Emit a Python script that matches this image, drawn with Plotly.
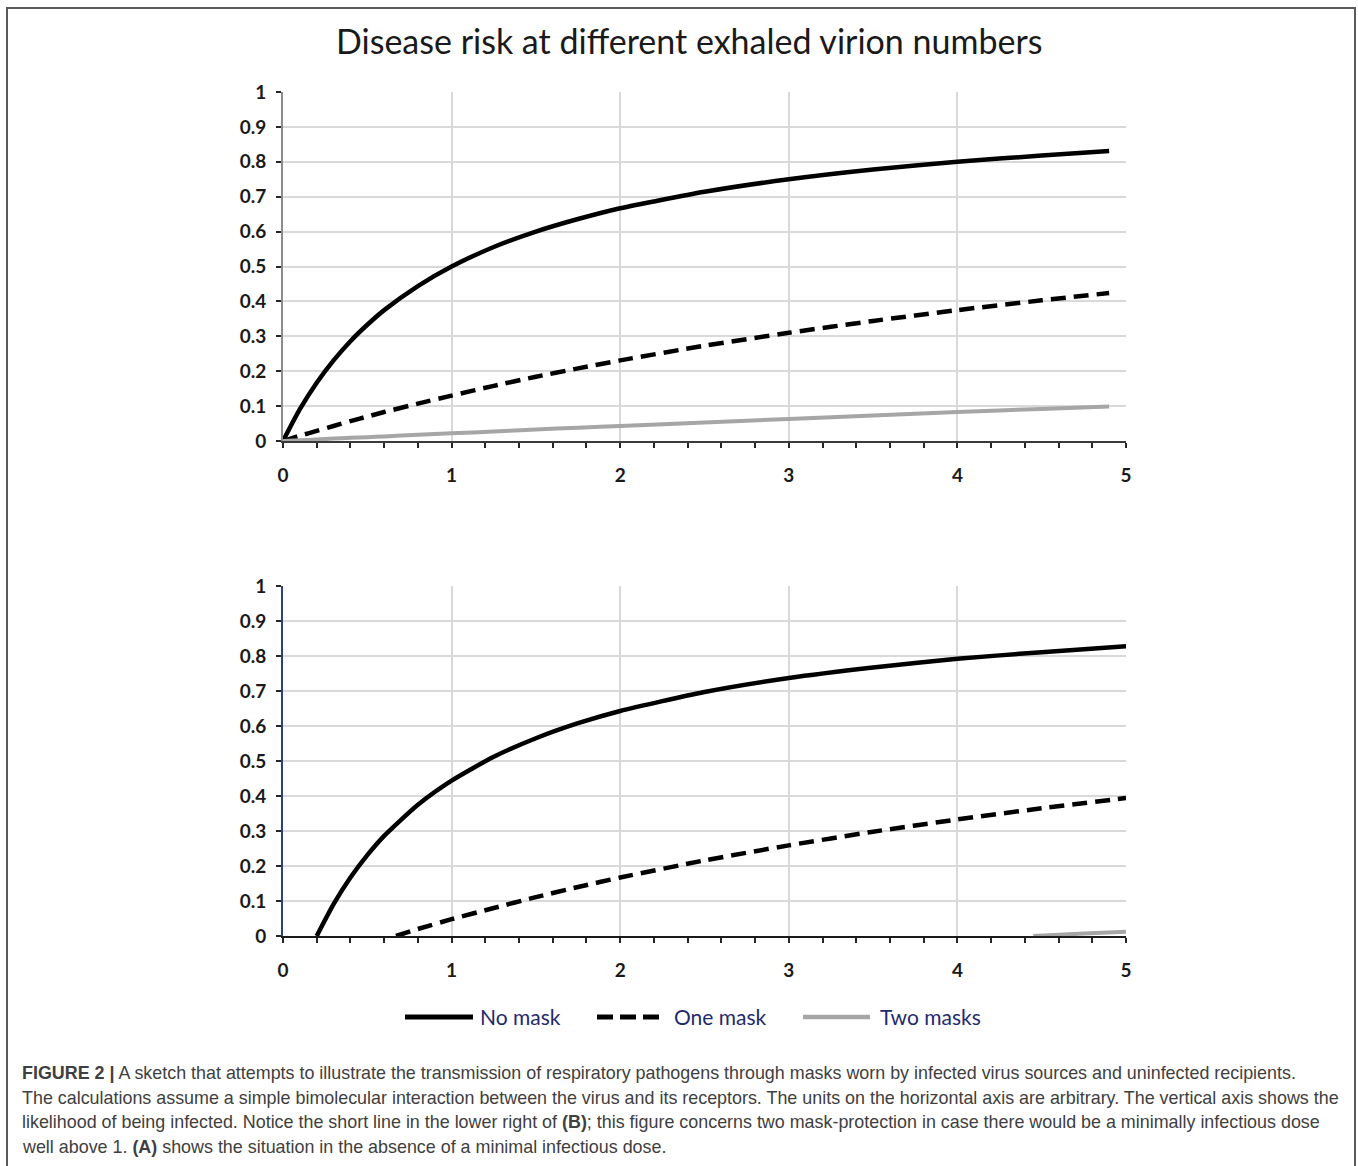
import plotly.graph_objects as go
from plotly.subplots import make_subplots

# ---- Panel A: no minimal infectious dose ----
a_x = [0, 0.1, 0.2, 0.3, 0.4, 0.5, 0.6, 0.8, 1.0, 1.25, 1.5, 1.75, 2.0, 2.5, 3.0, 3.5, 4.0, 4.5, 4.9]
a_no_mask = [0, 0.091, 0.167, 0.231, 0.286, 0.333, 0.375, 0.444, 0.5, 0.556, 0.6, 0.636, 0.667,
             0.714, 0.75, 0.778, 0.8, 0.818, 0.831]
a_one_mask = [0, 0.015, 0.029, 0.043, 0.057, 0.070, 0.083, 0.107, 0.130, 0.158, 0.184, 0.208, 0.231,
              0.273, 0.310, 0.344, 0.375, 0.403, 0.424]
a_two_masks = [0, 0.002, 0.004, 0.007, 0.009, 0.011, 0.013, 0.018, 0.022, 0.027, 0.033, 0.038, 0.043,
               0.053, 0.063, 0.073, 0.083, 0.092, 0.099]

# ---- Panel B: with a minimal infectious dose ----
b_no_mask_x = [0.2, 0.3, 0.4, 0.5, 0.6, 0.8, 1.0, 1.25, 1.5, 1.75, 2.0, 2.5, 3.0, 3.5, 4.0, 4.5, 5.0]
b_no_mask = [0, 0.091, 0.167, 0.231, 0.286, 0.375, 0.444, 0.512, 0.565, 0.608, 0.643, 0.697, 0.737,
             0.767, 0.792, 0.811, 0.828]
b_one_mask_x = [0.67, 0.8, 1.0, 1.25, 1.5, 1.75, 2.0, 2.5, 3.0, 3.5, 4.0, 4.5, 5.0]
b_one_mask = [0, 0.020, 0.048, 0.080, 0.111, 0.140, 0.167, 0.216, 0.259, 0.298, 0.333, 0.365, 0.394]
b_two_masks_x = [4.45, 4.75, 5.0]
b_two_masks = [0, 0.007, 0.012]

series_names = ["No mask", "One mask", "Two masks"]
x_ticks = [0, 1, 2, 3, 4, 5]
y_ticks = [0, 0.1, 0.2, 0.3, 0.4, 0.5, 0.6, 0.7, 0.8, 0.9, 1]
y_tick_text = ["0", "0.1", "0.2", "0.3", "0.4", "0.5", "0.6", "0.7", "0.8", "0.9", "1"]

W, H = 1358, 1166

styles = [
    dict(color="#000000", width=4.5),
    dict(color="#000000", width=4.5, dash="15px,8px"),
    dict(color="#a6a6a6", width=4),
]

fig = make_subplots(rows=2, cols=1)

panel_a = [(a_x, a_no_mask), (a_x, a_one_mask), (a_x, a_two_masks)]
panel_b = [(b_no_mask_x, b_no_mask), (b_one_mask_x, b_one_mask), (b_two_masks_x, b_two_masks)]

for row, panel in ((1, panel_a), (2, panel_b)):
    for i, (xs, ys) in enumerate(panel):
        fig.add_trace(go.Scatter(x=xs, y=ys, mode="lines", name=series_names[i],
                                 line=dict(shape="spline", smoothing=0.6, **styles[i]),
                                 showlegend=False), row=row, col=1)


def py(px):
    """Pixel row (from top) to paper fraction."""
    return (H - px) / H


def pxx(px):
    return px / W


label_font = dict(family="Lato, 'DejaVu Sans', sans-serif", size=19, color="#1a1a1a",
                  weight="bold")

x_common = dict(range=[0, 5], tickvals=x_ticks, ticks="outside", ticklen=5, tickwidth=1.5,
                tickcolor="#262626", showgrid=True, gridcolor="#d9d9d9", gridwidth=1.5,
                zeroline=False, showline=True, linewidth=2, tickfont=label_font,
                ticklabelstandoff=11, automargin=False,
                minor=dict(dtick=0.2, ticks="outside", ticklen=5, tickcolor="#262626",
                           tickwidth=1.5, showgrid=False),
                domain=[pxx(283), pxx(1126)])
y_common = dict(range=[0, 1], tickvals=y_ticks, ticktext=y_tick_text, ticks="outside",
                ticklen=5, tickwidth=1.5, tickcolor="#262626", showgrid=True,
                gridcolor="#d9d9d9", gridwidth=1.5, zeroline=False, showline=True,
                linewidth=2, tickfont=label_font, ticklabelstandoff=6, automargin=False)

fig.update_xaxes(**x_common, linecolor="#3a3a3a", row=1, col=1)
fig.update_xaxes(**x_common, linecolor="#1a1a1a", row=2, col=1)
fig.update_yaxes(**y_common, linecolor="#8c8c8c", domain=[py(441), py(92)], row=1, col=1)
fig.update_yaxes(**y_common, linecolor="#2a3f8f", domain=[py(936), py(586)], row=2, col=1)

caption_lines = [
    "<b>FIGURE 2 |</b> A sketch that attempts to illustrate the transmission of respiratory pathogens "
    "through masks worn by infected virus sources and uninfected recipients.",
    "The calculations assume a simple bimolecular interaction between the virus and its receptors. "
    "The units on the horizontal axis are arbitrary. The vertical axis shows the",
    "likelihood of being infected. Notice the short line in the lower right of <b>(B)</b>; this figure "
    "concerns two mask-protection in case there would be a minimally infectious dose",
    "well above 1. <b>(A)</b> shows the situation in the absence of a minimal infectious dose.",
]
caption_rows = [1073, 1098, 1122, 1147]

annotations = [
    dict(text="Disease risk at different exhaled virion numbers", x=pxx(689), y=py(40),
         xref="paper", yref="paper", xanchor="center", yanchor="middle", showarrow=False,
         font=dict(family="Lato, 'DejaVu Sans', sans-serif", size=34, color="#1a1a1a")),
]
for line, row in zip(caption_lines, caption_rows):
    annotations.append(dict(text=line, x=pxx(20), y=py(row), xref="paper", yref="paper",
                            xanchor="left", yanchor="middle", showarrow=False,
                            font=dict(family="'Liberation Sans', Arial, sans-serif", size=17.9,
                                      color="#404040")))

# Legend row drawn beneath panel B: sample line + label for each series
legend_y = 1017
legend_items = [
    (series_names[0], 405, 473, 478, dict(color="#000000", width=5)),
    (series_names[1], 597, 660, 672, dict(color="#000000", width=5, dash="16px,7px")),
    (series_names[2], 803, 870, 878, dict(color="#a6a6a6", width=4.5)),
]
shapes = [dict(type="rect", xref="paper", yref="paper", x0=pxx(7), x1=pxx(1355),
               y0=-0.02, y1=py(8), line=dict(color="#5a5a5a", width=2))]
for name, x0, x1, tx, ln in legend_items:
    shapes.append(dict(type="line", xref="paper", yref="paper", x0=pxx(x0), x1=pxx(x1),
                       y0=py(legend_y), y1=py(legend_y), line=ln))
    annotations.append(dict(text=name, x=pxx(tx), y=py(legend_y), xref="paper", yref="paper",
                            xanchor="left", yanchor="middle", showarrow=False,
                            font=dict(family="Lato, 'DejaVu Sans', sans-serif", size=21,
                                      color="#1f2a6e")))

fig.update_layout(
    template="none",
    width=W, height=H,
    margin=dict(l=0, r=0, t=0, b=0, pad=0),
    paper_bgcolor="white", plot_bgcolor="white",
    annotations=annotations,
    shapes=shapes,
    showlegend=False,
)

fig.write_html("out.html")
